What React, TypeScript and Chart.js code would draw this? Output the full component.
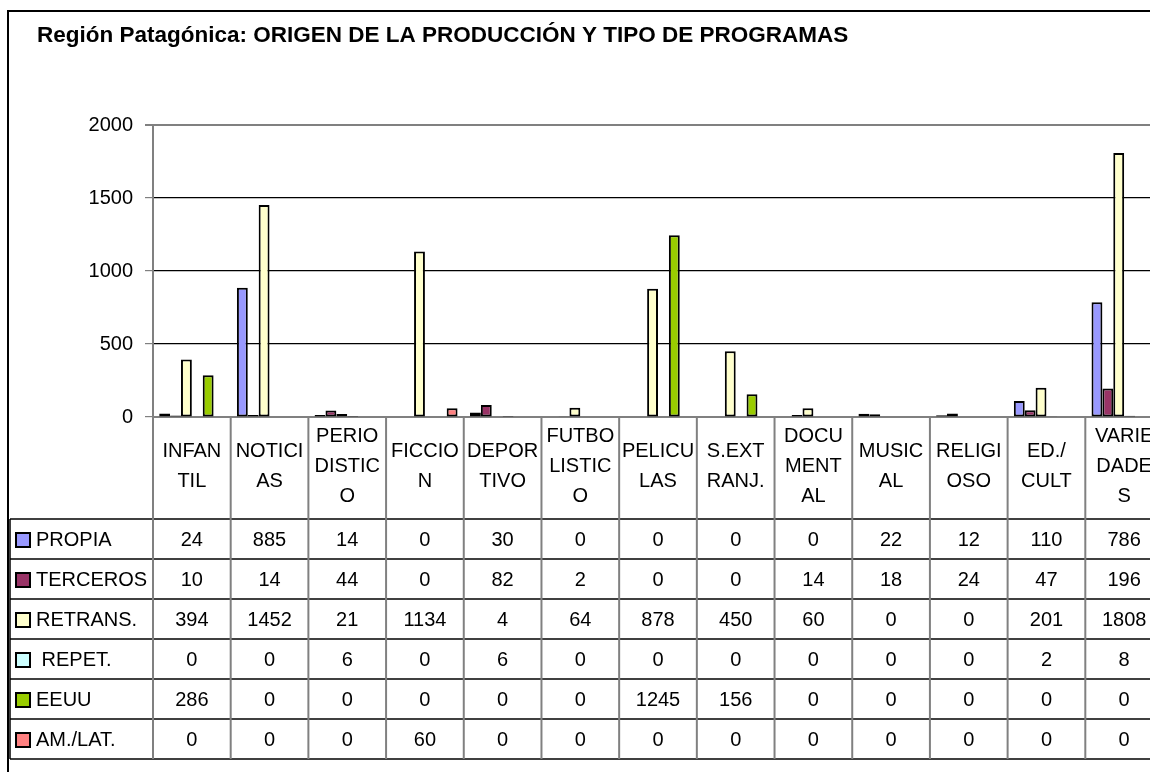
import React, { useEffect, useRef } from "react";
import { Chart, registerables } from "chart.js";
Chart.register(...registerables);

const TITLE = "Región Patagónica: ORIGEN DE LA PRODUCCIÓN Y TIPO DE PROGRAMAS";
const categories: string[][] = [
  ["INFAN", "TIL"], ["NOTICI", "AS"], ["PERIO", "DISTIC", "O"], ["FICCIO", "N"],
  ["DEPOR", "TIVO"], ["FUTBO", "LISTIC", "O"], ["PELICU", "LAS"], ["S.EXT", "RANJ."],
  ["DOCU", "MENT", "AL"], ["MUSIC", "AL"], ["RELIGI", "OSO"], ["ED./", "CULT"], ["VARIE", "DADE", "S"],
];
const seriesNames = ["PROPIA", "TERCEROS", "RETRANS.", " REPET.", "EEUU", "AM./LAT."];
const propia = [24, 885, 14, 0, 30, 0, 0, 0, 0, 22, 12, 110, 786];
const terceros = [10, 14, 44, 0, 82, 2, 0, 0, 14, 18, 24, 47, 196];
const retrans = [394, 1452, 21, 1134, 4, 64, 878, 450, 60, 0, 0, 201, 1808];
const repet = [0, 0, 6, 0, 6, 0, 0, 0, 0, 0, 0, 2, 8];
const eeuu = [286, 0, 0, 0, 0, 0, 1245, 156, 0, 0, 0, 0, 0];
const amlat = [0, 0, 0, 60, 0, 0, 0, 0, 0, 0, 0, 0, 0];
const seriesValues = [propia, terceros, retrans, repet, eeuu, amlat];
const colors = ["#9999FF", "#993366", "#FFFFCC", "#CCFFFF", "#99CC00", "#FF8080"];
const Y_MIN = 0;
const Y_MAX = 2000;
const Y_STEP = 500;

const FONT = '"Liberation Sans", Arial, sans-serif';

const tablePlugin = {
  id: "dataTable",
  afterDraw(chart: any) {
    const { ctx, chartArea } = chart;
    const x = chart.scales.x;
    const n = categories.length;
    const step = x.getPixelForValue(1) - x.getPixelForValue(0);
    const top = chartArea.bottom;
    const headerBottom = top + 102;
    const rowH = 40;
    const tableLeft = 10;
    const tableBottom = headerBottom + rowH * seriesNames.length;
    ctx.save();

    // outer border
    ctx.strokeStyle = "#000";
    ctx.lineWidth = 2;
    ctx.beginPath();
    ctx.moveTo(8, chart.height + 5);
    ctx.lineTo(8, 11);
    ctx.lineTo(chart.width + 5, 11);
    ctx.stroke();

    // title
    ctx.fillStyle = "#000";
    ctx.font = `bold 22.5px ${FONT}`;
    ctx.textAlign = "left";
    ctx.textBaseline = "alphabetic";
    ctx.fillText(TITLE, 37, 42);

    // horizontal table lines
    ctx.strokeStyle = "#000";
    ctx.lineWidth = 1.5;
    for (let r = 0; r <= seriesNames.length; r++) {
      const yy = headerBottom + r * rowH;
      ctx.beginPath();
      ctx.moveTo(tableLeft, yy);
      ctx.lineTo(chart.width, yy);
      ctx.stroke();
    }
    // left border of table
    ctx.beginPath();
    ctx.moveTo(tableLeft, headerBottom);
    ctx.lineTo(tableLeft, tableBottom);
    ctx.stroke();

    // vertical separators
    ctx.strokeStyle = "#808080";
    ctx.lineWidth = 2;
    for (let k = 0; k <= n; k++) {
      const xx = x.getPixelForValue(0) - step / 2 + k * step;
      ctx.beginPath();
      ctx.moveTo(xx, top);
      ctx.lineTo(xx, tableBottom);
      ctx.stroke();
    }

    // header labels
    ctx.fillStyle = "#000";
    ctx.font = `20px ${FONT}`;
    ctx.textAlign = "center";
    ctx.textBaseline = "middle";
    const headerMid = 466;
    categories.forEach((lines, i) => {
      const cx = x.getPixelForValue(i);
      const y0 = headerMid - ((lines.length - 1) * 30) / 2;
      lines.forEach((ln, j) => ctx.fillText(ln, cx, y0 + j * 30));
    });

    // rows
    seriesNames.forEach((name, r) => {
      const yMid = headerBottom + r * rowH + rowH / 2 + 1;
      // legend key
      ctx.fillStyle = colors[r];
      ctx.fillRect(16, yMid - 7, 14, 14);
      ctx.strokeStyle = "#000";
      ctx.lineWidth = 2;
      ctx.strokeRect(16, yMid - 7, 14, 14);
      ctx.fillStyle = "#000";
      ctx.textAlign = "left";
      ctx.fillText(name, 36, yMid);
      ctx.textAlign = "center";
      seriesValues[r].forEach((v, i) => {
        ctx.fillText(String(v), x.getPixelForValue(i), yMid);
      });
    });
    ctx.restore();
  },
};

export default function App() {
  const ref = useRef<HTMLCanvasElement | null>(null);
  useEffect(() => {
    if (!ref.current) return;
    const chart = new Chart(ref.current, {
      type: "bar",
      data: {
        labels: categories.map((c) => c.join("")),
        datasets: seriesNames.map((name, i) => ({
          label: name.trim(),
          data: seriesValues[i],
          backgroundColor: colors[i],
          borderColor: "#000",
          borderWidth: 2,
          borderSkipped: false,
          categoryPercentage: 0.84,
          barPercentage: 1.0,
        })),
      },
      plugins: [tablePlugin],
      options: {
        responsive: false,
        animation: false,
        devicePixelRatio: 1,
        layout: { padding: { left: 0, top: 125, right: 37, bottom: 355 } },
        plugins: { legend: { display: false }, title: { display: false }, tooltip: { enabled: false } },
        scales: {
          x: {
            grid: { display: false },
            ticks: { display: false },
            border: { display: true, color: "#808080", width: 2 },
            afterFit: (s: any) => { s.height = 0; },
          },
          y: {
            min: Y_MIN,
            max: Y_MAX,
            ticks: {
              stepSize: Y_STEP,
              color: "#000",
              padding: 12,
              font: { family: FONT, size: 20 },
              callback: (v: any) => String(v),
            },
            grid: {
              color: (c: any) => (c.tick && (c.tick.value === Y_MAX || c.tick.value === Y_MIN) ? "#808080" : "#000"),
              lineWidth: (c: any) => (c.tick && c.tick.value === Y_MAX ? 2 : 1.2),
              tickColor: "#808080",
              tickLength: 8,
            },
            border: { display: true, color: "#808080", width: 2 },
            afterFit: (s: any) => { s.width = 153; },
          },
        },
      },
    });
    return () => chart.destroy();
  }, []);
  return (
    <div style={{ position: "fixed", left: 0, top: 0, width: 1150, height: 772, overflow: "hidden", background: "#fff" }}>
      <canvas ref={ref} width={1200} height={772} style={{ display: "block", width: 1200, height: 772 }} />
    </div>
  );
}
